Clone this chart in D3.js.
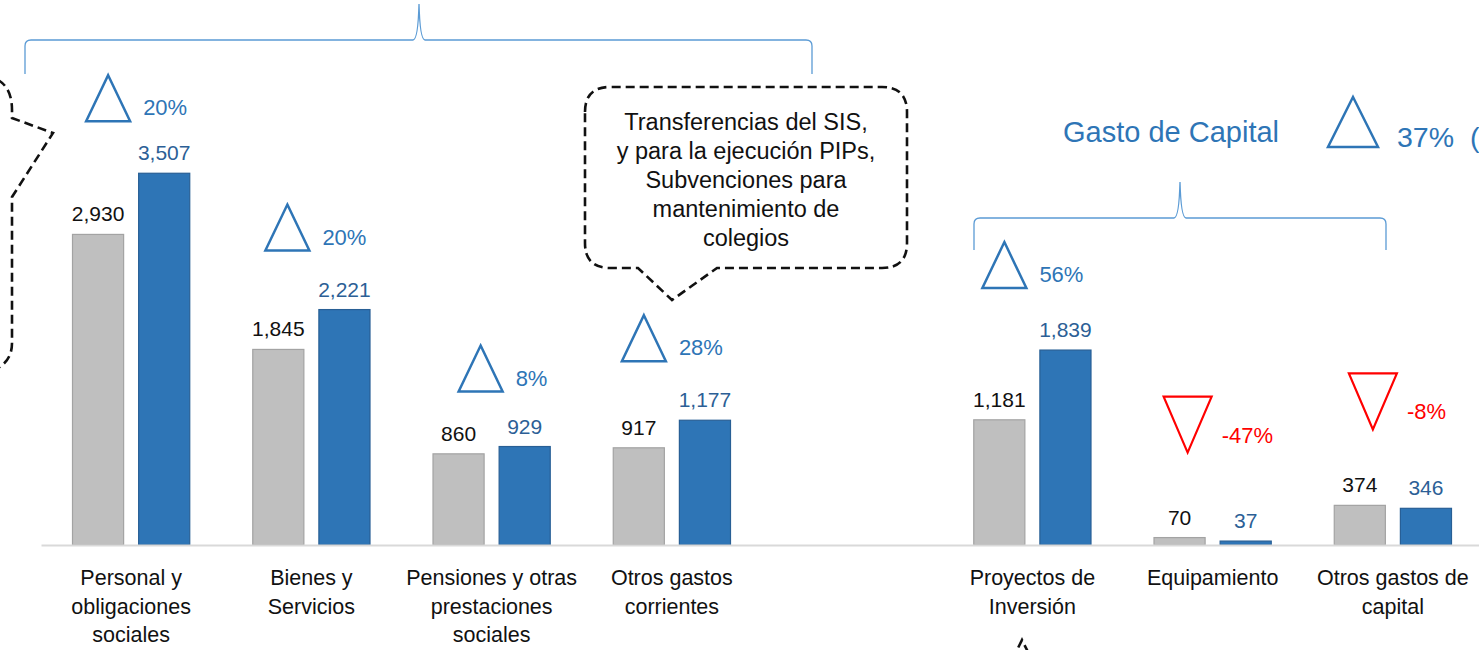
<!DOCTYPE html>
<html lang="es">
<head>
<meta charset="UTF-8">
<title>Gasto</title>
<style>
  body { margin: 0; background: #fff; }
  svg { display: block; font-family: "Liberation Sans", Arial, sans-serif; }
</style>
</head>
<body>
<script src="https://cdn.jsdelivr.net/npm/d3@7/dist/d3.min.js"></script>
<script>
// datos
var categorias = ["Personal y obligaciones sociales", "Bienes y Servicios",
  "Pensiones y otras prestaciones sociales", "Otros gastos corrientes", "",
  "Proyectos de Inversión", "Equipamiento", "Otros gastos de capital"];
var etiquetas = [["Personal y", "obligaciones", "sociales"], ["Bienes y", "Servicios"],
  ["Pensiones y otras", "prestaciones", "sociales"], ["Otros gastos", "corrientes"], [],
  ["Proyectos de", "Inversión"], ["Equipamiento"], ["Otros gastos de", "capital"]];
var valores2016 = [2930, 1845, 860, 917, null, 1181, 70, 374];
var valores2017 = [3507, 2221, 929, 1177, null, 1839, 37, 346];
var variacion = ["20%", "20%", "8%", "28%", null, "56%", "-47%", "-8%"];
var notaSIS = ["Transferencias del SIS,", "y para la ejecución PIPs,", "Subvenciones para", "mantenimiento de", "colegios"];

// posicion de los triangulos respecto al centro de la categoria (solo maquetacion)
var marcaDx = [-23, -24, -11, -28, 0, -28, -25, -20];
var marcaDy = [52, 59, 55, 59, 0, 62, 85, 76];

var width = 1479, height = 650;
var azul = "#2e75b6", gris = "#bfbfbf";

var svg = d3.select("body").append("svg")
  .attr("width", width)
  .attr("height", height);

var x0 = d3.scaleBand()
  .domain(categorias)
  .range([41, 1483])
  .paddingInner(0.344)
  .paddingOuter(0.172);

var x1 = d3.scaleBand()
  .domain(["2016", "2017"])
  .range([0, x0.bandwidth()])
  .paddingInner(0.212);

var y = d3.scaleLinear()
  .domain([0, 4000])
  .range([545, 121]);

var filas = categorias.map(function(c, i) {
  return { cat: c, i: i, a: valores2016[i], b: valores2017[i], v: variacion[i] };
}).filter(function(d) { return d.a != null; });

// barras
var grupos = svg.selectAll("g.grupo")
  .data(filas)
  .enter().append("g")
  .attr("class", "grupo")
  .attr("transform", function(d) { return "translate(" + x0(d.cat) + ",0)"; });

grupos.append("rect")
  .attr("x", x1("2016") + 0.5)
  .attr("y", function(d) { return y(d.a); })
  .attr("width", x1.bandwidth() - 1)
  .attr("height", function(d) { return y(0) - y(d.a); })
  .attr("fill", gris)
  .attr("stroke", "#a3a3a3")
  .attr("stroke-width", 1.2);

grupos.append("rect")
  .attr("x", x1("2017") + 0.5)
  .attr("y", function(d) { return y(d.b); })
  .attr("width", x1.bandwidth() - 1)
  .attr("height", function(d) { return y(0) - y(d.b); })
  .attr("fill", azul)
  .attr("stroke", "#285f95")
  .attr("stroke-width", 1.2);

var fmt = d3.format(",");

grupos.append("text")
  .attr("x", x1("2016") + x1.bandwidth() / 2)
  .attr("y", function(d) { return y(d.a) - 13; })
  .attr("text-anchor", "middle")
  .attr("font-size", "21px")
  .attr("fill", "#111")
  .text(function(d) { return fmt(d.a); });

grupos.append("text")
  .attr("x", x1("2017") + x1.bandwidth() / 2)
  .attr("y", function(d) { return y(d.b) - 13; })
  .attr("text-anchor", "middle")
  .attr("font-size", "21px")
  .attr("fill", "#2c5f96")
  .text(function(d) { return fmt(d.b); });

// eje
var eje = svg.append("g")
  .attr("transform", "translate(0," + y(0) + ")")
  .call(d3.axisBottom(x0).tickSize(0).tickFormat(""));
eje.select(".domain").attr("stroke", "#d9d9d9").attr("stroke-width", 2);

svg.selectAll("g.etq")
  .data(etiquetas)
  .enter().append("g")
  .attr("class", "etq")
  .each(function(lineas, i) {
    var cx = x0(categorias[i]) + x0.bandwidth() / 2;
    d3.select(this).selectAll("text")
      .data(lineas)
      .enter().append("text")
      .attr("x", cx)
      .attr("y", function(d, k) { return 585 + k * 28.5; })
      .attr("text-anchor", "middle")
      .attr("font-size", "21.5px")
      .attr("fill", "#111")
      .text(function(d) { return d; });
  });

// triangulos de variacion
filas.forEach(function(d) {
  var cx = x0(d.cat) + x0.bandwidth() / 2 + marcaDx[d.i];
  var top = y(Math.max(d.a, d.b));
  var baja = d.v.charAt(0) === "-";
  var g = svg.append("g");
  if (!baja) {
    var by = top - marcaDy[d.i];
    g.append("path")
      .attr("d", "M" + cx + "," + (by - 46) + "L" + (cx + 22) + "," + by + "L" + (cx - 22) + "," + by + "Z")
      .attr("fill", "none").attr("stroke", azul).attr("stroke-width", 2.5);
    g.append("text")
      .attr("x", cx + 35).attr("y", by - 6)
      .attr("font-size", "22px").attr("fill", azul)
      .text(d.v);
  } else {
    var ty = top - marcaDy[d.i] - 56;
    g.append("path")
      .attr("d", "M" + (cx - 24) + "," + ty + "L" + (cx + 24) + "," + ty + "L" + cx + "," + (ty + 56) + "Z")
      .attr("fill", "none").attr("stroke", "#ff0000").attr("stroke-width", 2.2);
    g.append("text")
      .attr("x", cx + 34).attr("y", ty + 46)
      .attr("font-size", "22px").attr("fill", "#ff0000")
      .text(d.v);
  }
});

// llaves
function llave(x1p, x2p, xm, yb, yh, ytop) {
  return "M" + x1p + "," + yb +
    "L" + x1p + "," + (yh + 6) +
    "Q" + x1p + "," + yh + " " + (x1p + 6) + "," + yh +
    "L" + (xm - 6) + "," + yh +
    "Q" + (xm - 1) + "," + yh + " " + xm + "," + ytop +
    "Q" + (xm + 1) + "," + yh + " " + (xm + 6) + "," + yh +
    "L" + (x2p - 6) + "," + yh +
    "Q" + x2p + "," + yh + " " + x2p + "," + (yh + 6) +
    "L" + x2p + "," + yb;
}
svg.append("path")
  .attr("d", llave(25, 812, 419, 74, 40, 4))
  .attr("fill", "none").attr("stroke", "#5b9bd5").attr("stroke-width", 1.3);
svg.append("path")
  .attr("d", llave(974, 1386, 1180, 250, 218, 182))
  .attr("fill", "none").attr("stroke", "#5b9bd5").attr("stroke-width", 1.3);

// titulo gasto de capital
svg.append("text")
  .attr("x", 1063).attr("y", 142)
  .attr("font-size", "29px").attr("fill", azul)
  .text("Gasto de Capital");
svg.append("path")
  .attr("d", "M1353,97L1378,147L1328,147Z")
  .attr("fill", "none").attr("stroke", azul).attr("stroke-width", 2.5);
svg.append("text")
  .attr("x", 1397).attr("y", 147)
  .attr("font-size", "28.5px").attr("fill", azul)
  .text("37%");
svg.append("text")
  .attr("x", 1470).attr("y", 147)
  .attr("font-size", "28.5px").attr("fill", azul)
  .text("(");

// globos punteados
var dash = { stroke: "#111", "stroke-width": 2.6, "stroke-dasharray": "9,5", fill: "none" };
function aplicar(sel) {
  Object.keys(dash).forEach(function(k) { sel.attr(k, dash[k]); });
  return sel;
}

aplicar(svg.append("path")
  .attr("d", "M585,112Q585,87 610,87L882,87Q907,87 907,112L907,243Q907,268 882,268" +
    "L717,268L672,300L638,268L610,268Q585,268 585,243Z"));

aplicar(svg.append("path")
  .attr("d", "M-2,80Q12,88 12,110L12,118L53,133L12,197L12,343Q12,360 -2,368"));

aplicar(svg.append("path")
  .attr("d", "M1012,660L1022,640L1032,660"));

svg.append("g").selectAll("text")
  .data(notaSIS)
  .enter().append("text")
  .attr("x", 746)
  .attr("y", function(d, k) { return 130 + k * 29; })
  .attr("text-anchor", "middle")
  .attr("font-size", "23.5px")
  .attr("fill", "#111")
  .text(function(d) { return d; });
</script>
</body>
</html>
